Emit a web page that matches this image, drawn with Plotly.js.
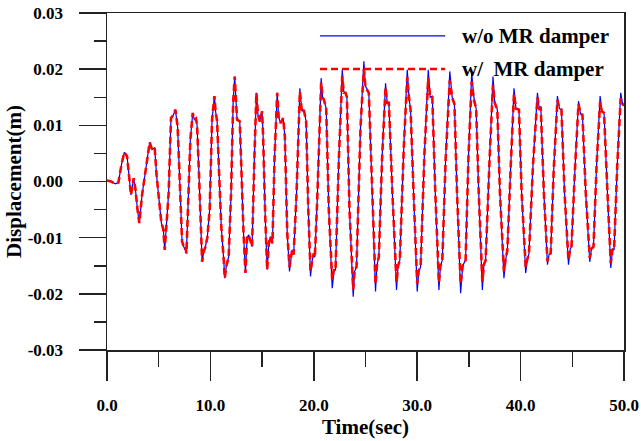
<!DOCTYPE html>
<html>
<head>
<meta charset="utf-8">
<script src="https://cdn.plot.ly/plotly-3.0.1.min.js"></script>
<style>html,body{margin:0;padding:0;background:#fff;}#chart{width:641px;height:441px;}</style>
</head>
<body>
<div id="chart"></div>
<script>
// Time (sec)
const time = [
  0,0.4,0.8,1.1,1.4,1.67,1.94,2.15,2.32,2.58,2.74,2.95,3.13,3.39,3.71,3.95,4.13,4.35,4.61,4.8,5.0,
  5.26,5.45,5.58,5.96,6.19,6.4,6.61,6.83,7.0,
  7.1,7.26,7.5,7.6,7.68,7.85,8.06,8.29,8.45,8.6,8.71,8.9,
  9.05,9.2,9.35,9.52,9.7,9.93,10.16,10.39,10.5,10.65,10.85,
  11.05,11.29,11.39,11.55,11.77,12.0,12.2,12.35,12.58,12.84,13.05,
  13.2,13.39,13.55,13.71,14.03,14.25,14.45,14.6,14.77,15.0,15.1,15.3,
  15.49,15.65,15.81,16.0,16.2,16.46,16.6,16.78,17.04,17.2,
  17.43,17.65,17.9,18.05,18.33,18.65,18.85,19.03,19.26,19.45,
  19.68,19.85,20.0,20.1,20.33,20.71,20.85,20.97,21.2,21.45,
  21.78,21.95,22.1,22.42,22.75,22.9,23.07,23.2,23.45,
  23.81,23.95,24.13,24.52,24.84,25.0,25.32,25.6,
  25.97,26.1,26.29,26.6,26.94,27.1,27.26,27.6,
  28.0,28.15,28.32,28.7,29.04,29.2,29.36,29.65,
  30.0,30.15,30.33,30.7,31.07,31.25,31.46,31.75,
  32.1,32.25,32.43,32.75,33.15,33.39,33.6,33.85,
  34.2,34.4,34.68,34.95,35.27,35.49,35.7,35.95,
  36.3,36.45,36.62,37.0,37.33,37.5,37.75,38.0,
  38.39,38.55,38.72,39.05,39.36,39.55,39.84,40.1,
  40.49,40.65,40.81,41.2,41.63,41.8,41.95,42.25,
  42.6,42.75,42.91,43.2,43.56,43.75,43.95,44.25,
  44.63,44.8,44.92,45.25,45.6,45.8,45.98,46.3,
  46.69,46.85,47.05,47.35,47.69,47.85,48.07,48.4,
  48.72,48.9,49.04,49.35,49.68,49.85,50.0
];
// Displacement (m) without MR damper
const dispNoDamper = [
  0.0002,0,-0.0004,-0.0002,0.0030,0.0052,0.0045,0.0005,-0.0024,0.0006,-0.0012,-0.0050,-0.0074,-0.0024,0.0015,0.0045,0.0070,0.0057,0.0060,0.0010,-0.0033,
  -0.0074,-0.0085,-0.0122,-0.0021,0.0113,0.0118,0.0128,0.0098,0.0020,
  -0.0040,-0.0107,-0.0120,-0.0118,-0.0128,-0.0040,0.0074,0.0122,0.0110,0.0112,0.0101,0.0010,
  -0.0080,-0.0143,-0.0125,-0.0116,-0.0100,-0.0050,0.0110,0.0152,0.0125,0.0107,0.0010,
  -0.0080,-0.0140,-0.0172,-0.0150,-0.0134,-0.0020,0.0140,0.0187,0.0110,0.0107,-0.0020,
  -0.0090,-0.0163,-0.0100,-0.0095,-0.0116,0.0040,0.0158,0.0120,0.0107,0.0125,0.0080,-0.0060,
  -0.0157,-0.0110,-0.0098,-0.0110,0.0040,0.0158,0.0115,0.0104,0.0113,0.0080,
  -0.0092,-0.0160,-0.0122,-0.0130,-0.0021,0.0166,0.0125,0.0128,0.0107,-0.0040,
  -0.0169,-0.0140,-0.0128,-0.0135,-0.0033,0.0184,0.0150,0.0146,0.0130,-0.0050,
  -0.0190,-0.0160,-0.0157,0.0039,0.0199,0.0160,0.0158,0.0150,-0.0050,
  -0.0205,-0.0160,-0.0152,0.0098,0.0214,0.0170,0.0158,0.0010,
  -0.0196,-0.0150,-0.0134,0.0040,0.0175,0.0140,0.0140,-0.0020,
  -0.0193,-0.0150,-0.0140,0.0060,0.0199,0.0150,0.0128,-0.0020,
  -0.0196,-0.0160,-0.0152,0.0050,0.0199,0.0150,0.0152,-0.0020,
  -0.0193,-0.0150,-0.0140,0.0040,0.0196,0.0149,0.0140,-0.0020,
  -0.0199,-0.0150,-0.0140,0.0040,0.0193,0.0149,0.0130,-0.0020,
  -0.0193,-0.0150,-0.0140,0.0040,0.0187,0.0140,0.0128,-0.0020,
  -0.0172,-0.0140,-0.0122,0.0030,0.0166,0.0130,0.0128,-0.0020,
  -0.0163,-0.0140,-0.0128,0.0030,0.0158,0.0130,0.0134,-0.0020,
  -0.0148,-0.0130,-0.0128,0.0020,0.0152,0.0130,0.0128,-0.0020,
  -0.0148,-0.0120,-0.0116,0.0020,0.0143,0.0120,0.0119,-0.0020,
  -0.0143,-0.0120,-0.0116,0.0030,0.0152,0.0125,0.0122,-0.0020,
  -0.0154,-0.0120,-0.0122,0.0030,0.0158,0.0140,0.0135
];
// Displacement (m) with MR damper
const dispDamper = [
  0.0002,0,-0.0004,-0.0002,0.0030,0.0052,0.0045,0.0005,-0.0024,0.0006,-0.0012,-0.0050,-0.0074,-0.0024,0.0015,0.0045,0.0070,0.0057,0.0060,0.0010,-0.0033,
  -0.0074,-0.0085,-0.0122,-0.0021,0.0113,0.0118,0.0128,0.0098,0.0020,
  -0.0040,-0.0107,-0.0120,-0.0118,-0.0128,-0.0040,0.0074,0.0122,0.0110,0.0112,0.0101,0.0010,
  -0.0080,-0.0143,-0.0125,-0.0116,-0.0100,-0.0050,0.0110,0.0152,0.0125,0.0107,0.0010,
  -0.0080,-0.0140,-0.0172,-0.0150,-0.0134,-0.0020,0.0140,0.0187,0.0110,0.0107,-0.0020,
  -0.0090,-0.0163,-0.0100,-0.0095,-0.0116,0.0040,0.0158,0.0120,0.0107,0.0125,0.0080,-0.0060,
  -0.0157,-0.0110,-0.0098,-0.0110,0.0040,0.0158,0.0115,0.0104,0.0113,0.0080,
  -0.0092,-0.0152,-0.0122,-0.0130,-0.0021,0.0160,0.0125,0.0128,0.0107,-0.0040,
  -0.0160,-0.0140,-0.0128,-0.0135,-0.0033,0.0176,0.0150,0.0146,0.0130,-0.0050,
  -0.0175,-0.0155,-0.0157,0.0039,0.0188,0.0158,0.0158,0.0150,-0.0050,
  -0.0192,-0.0158,-0.0152,0.0098,0.0200,0.0168,0.0158,0.0010,
  -0.0183,-0.0150,-0.0134,0.0040,0.0168,0.0140,0.0140,-0.0020,
  -0.0180,-0.0150,-0.0140,0.0060,0.0186,0.0150,0.0128,-0.0020,
  -0.0182,-0.0158,-0.0152,0.0050,0.0185,0.0150,0.0150,-0.0020,
  -0.0180,-0.0150,-0.0140,0.0040,0.0180,0.0149,0.0138,-0.0020,
  -0.0182,-0.0150,-0.0140,0.0040,0.0178,0.0145,0.0130,-0.0020,
  -0.0178,-0.0148,-0.0140,0.0040,0.0172,0.0140,0.0128,-0.0020,
  -0.0160,-0.0138,-0.0122,0.0030,0.0156,0.0130,0.0128,-0.0020,
  -0.0152,-0.0138,-0.0128,0.0030,0.0150,0.0130,0.0132,-0.0020,
  -0.0142,-0.0130,-0.0128,0.0020,0.0145,0.0130,0.0128,-0.0020,
  -0.0140,-0.0120,-0.0116,0.0020,0.0138,0.0120,0.0119,-0.0020,
  -0.0136,-0.0120,-0.0116,0.0030,0.0142,0.0125,0.0122,-0.0020,
  -0.0145,-0.0120,-0.0122,0.0030,0.0148,0.0138,0.0135
];
const xTickVals = [0, 10, 20, 30, 40, 50];
const xTickText = ["0.0", "10.0", "20.0", "30.0", "40.0", "50.0"];
const yTickVals = [-0.03, -0.02, -0.01, 0, 0.01, 0.02, 0.03];
const yTickText = ["-0.03", "-0.02", "-0.01", "0.00", "0.01", "0.02", "0.03"];
const seriesNames = ["w/o MR damper", "w/\u00a0\u00a0MR damper"];

const FONT = "Liberation Serif, Times New Roman, serif";
const AX = "#222";

const traces = [
  {x: time, y: dispNoDamper, type: "scatter", mode: "lines", name: seriesNames[0],
   line: {color: "#0000ff", width: 1.2}},
  {x: time, y: dispDamper, type: "scatter", mode: "lines", name: seriesNames[1],
   line: {color: "#ff0000", width: 2.6, dash: "7px,4px"}}
];

const layout = {
  width: 641, height: 441,
  margin: {l: 107, r: 17, t: 13, b: 91},
  paper_bgcolor: "#fff", plot_bgcolor: "#fff",
  showlegend: false,
  font: {family: FONT, size: 17, color: "#000", weight: "bold"},
  xaxis: {
    range: [0, 50], tickmode: "array", tickvals: xTickVals, ticktext: xTickText,
    ticks: "outside", ticklen: 29, tickwidth: 1.5, tickcolor: AX,
    minor: {tickmode: "linear", tick0: 0, dtick: 5, ticks: "outside", ticklen: 15, tickwidth: 1.5, tickcolor: AX},
    showline: true, linecolor: AX, linewidth: 1.5, mirror: true,
    showgrid: false, zeroline: false, ticklabelstandoff: 10,
    tickfont: {family: FONT, size: 17, weight: "bold"},
    title: {text: "Time(sec)", font: {family: FONT, size: 21, weight: "bold"}, standoff: 2},
    automargin: false
  },
  yaxis: {
    range: [-0.03, 0.03], tickmode: "array", tickvals: yTickVals, ticktext: yTickText,
    ticks: "outside", ticklen: 27, tickwidth: 1.5, tickcolor: AX,
    minor: {tickmode: "linear", tick0: 0, dtick: 0.005, ticks: "outside", ticklen: 12, tickwidth: 1.5, tickcolor: AX},
    showline: true, linecolor: AX, linewidth: 1.5, mirror: true,
    showgrid: false, zeroline: false, ticklabelstandoff: 12,
    tickfont: {family: FONT, size: 17, weight: "bold"},
    title: {text: "Displacement(m)", font: {family: FONT, size: 21, weight: "bold"}, standoff: 0},
    automargin: false
  },
  shapes: [
    {type: "line", xref: "paper", yref: "paper", x0: 0.412, x1: 0.654, y0: 0.932, y1: 0.932,
     line: {color: "#0000ff", width: 1.2}},
    {type: "line", xref: "paper", yref: "paper", x0: 0.412, x1: 0.654, y0: 0.834, y1: 0.834,
     line: {color: "#ff0000", width: 2.6, dash: "7px,4px"}}
  ],
  annotations: [
    {xref: "paper", yref: "paper", x: 0.683, y: 0.932, xanchor: "left", yanchor: "middle",
     text: seriesNames[0], showarrow: false, font: {family: FONT, size: 21, weight: "bold", color: "#000"}},
    {xref: "paper", yref: "paper", x: 0.683, y: 0.834, xanchor: "left", yanchor: "middle",
     text: seriesNames[1], showarrow: false, font: {family: FONT, size: 21, weight: "bold", color: "#000"}}
  ]
};

Plotly.newPlot("chart", traces, layout, {displayModeBar: false, staticPlot: true});
</script>
</body>
</html>
